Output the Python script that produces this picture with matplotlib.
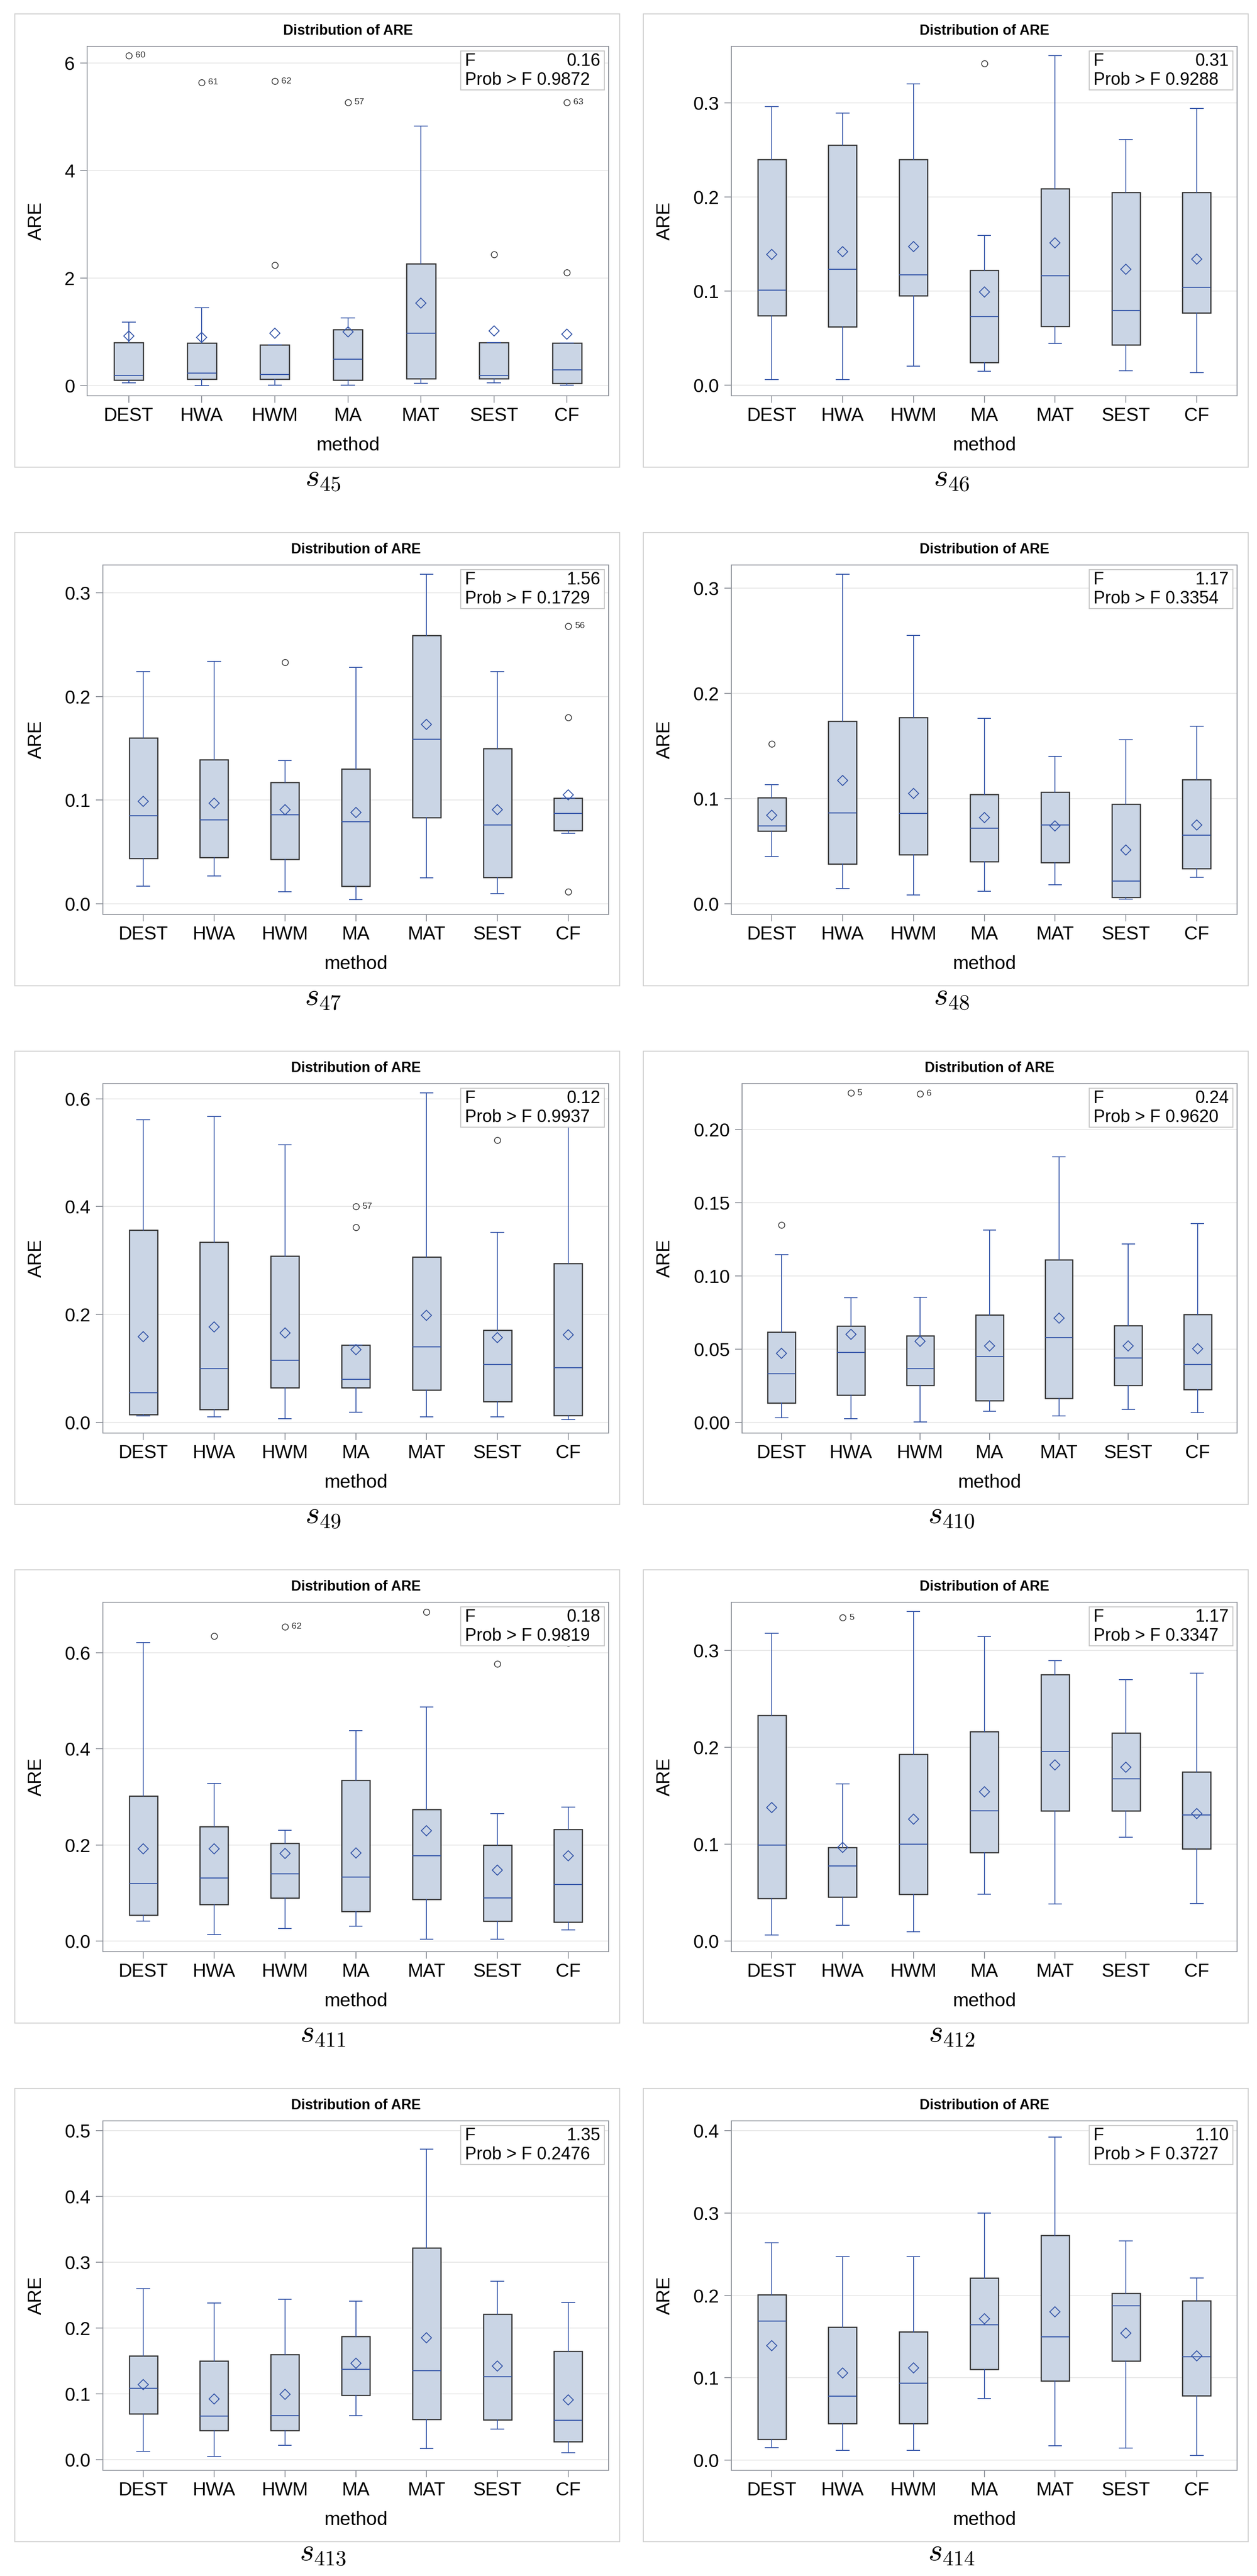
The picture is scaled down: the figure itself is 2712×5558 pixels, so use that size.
import matplotlib.pyplot as plt
from matplotlib.patches import Rectangle
from matplotlib.ticker import MultipleLocator, FormatStrFormatter

plt.rcParams['font.family'] = ['Liberation Sans', 'DejaVu Sans']
plt.rcParams['mathtext.fontset'] = 'cm'

methods = ['DEST', 'HWA', 'HWM', 'MA', 'MAT', 'SEST', 'CF']
series = ['45', '46', '47', '48', '49', '410', '411', '412', '413', '414']
f_values = ['0.16', '0.31', '1.56', '1.17', '0.12', '0.24', '0.18', '1.17', '1.35', '1.10']
p_values = ['0.9872', '0.9288', '0.1729', '0.3354', '0.9937', '0.9620', '0.9819', '0.3347', '0.2476', '0.3727']

# one row per method: Q1, median, Q3, lower whisker, upper whisker, mean
s45 = [(0.10, 0.19, 0.80, 0.055, 1.18, 0.92),
       (0.12, 0.23, 0.79, 0.0, 1.45, 0.90),
       (0.12, 0.21, 0.76, 0.01, 0.76, 0.97),
       (0.10, 0.49, 1.04, 0.01, 1.26, 1.00),
       (0.13, 0.97, 2.27, 0.045, 4.83, 1.53),
       (0.13, 0.19, 0.80, 0.055, 0.80, 1.02),
       (0.045, 0.29, 0.79, 0.01, 0.79, 0.96)]
s46 = [(0.074, 0.101, 0.240, 0.006, 0.296, 0.139),
       (0.062, 0.123, 0.255, 0.006, 0.289, 0.142),
       (0.095, 0.117, 0.240, 0.020, 0.320, 0.147),
       (0.024, 0.073, 0.122, 0.0145, 0.159, 0.099),
       (0.0625, 0.116, 0.209, 0.0445, 0.350, 0.151),
       (0.043, 0.079, 0.205, 0.015, 0.261, 0.123),
       (0.077, 0.104, 0.205, 0.013, 0.294, 0.134)]
s47 = [(0.044, 0.085, 0.160, 0.017, 0.224, 0.099),
       (0.0447, 0.081, 0.139, 0.027, 0.234, 0.097),
       (0.043, 0.086, 0.117, 0.0118, 0.138, 0.091),
       (0.017, 0.079, 0.130, 0.004, 0.228, 0.088),
       (0.083, 0.159, 0.259, 0.025, 0.318, 0.173),
       (0.0255, 0.076, 0.150, 0.0098, 0.224, 0.091),
       (0.0705, 0.087, 0.102, 0.068, 0.102, 0.105)]
s48 = [(0.069, 0.074, 0.101, 0.045, 0.113, 0.084),
       (0.0378, 0.0864, 0.1736, 0.0144, 0.313, 0.117),
       (0.0466, 0.0858, 0.177, 0.0085, 0.255, 0.105),
       (0.040, 0.0717, 0.104, 0.012, 0.176, 0.082),
       (0.039, 0.075, 0.106, 0.018, 0.140, 0.074),
       (0.006, 0.0215, 0.0946, 0.0042, 0.156, 0.051),
       (0.0336, 0.065, 0.118, 0.025, 0.1685, 0.075)]
s49 = [(0.0143, 0.055, 0.3566, 0.0116, 0.561, 0.159),
       (0.024, 0.100, 0.334, 0.0105, 0.567, 0.177),
       (0.064, 0.115, 0.308, 0.007, 0.515, 0.166),
       (0.064, 0.080, 0.1436, 0.019, 0.1436, 0.135),
       (0.060, 0.140, 0.307, 0.0099, 0.611, 0.198),
       (0.0385, 0.107, 0.1706, 0.0099, 0.352, 0.157),
       (0.0132, 0.101, 0.295, 0.0055, 0.600, 0.162)]
s410 = [(0.0132, 0.0333, 0.0617, 0.0032, 0.1146, 0.0473),
        (0.0187, 0.0477, 0.0659, 0.0024, 0.0852, 0.0602),
        (0.0252, 0.0367, 0.0592, 0.0002, 0.0854, 0.0554),
        (0.0148, 0.0448, 0.0734, 0.0075, 0.1314, 0.0521),
        (0.0166, 0.0578, 0.111, 0.0045, 0.1815, 0.0712),
        (0.0254, 0.044, 0.0663, 0.0089, 0.122, 0.0523),
        (0.0225, 0.0396, 0.0738, 0.0067, 0.1357, 0.0503)]
s411 = [(0.0544, 0.120, 0.3016, 0.042, 0.621, 0.192),
        (0.076, 0.1316, 0.2386, 0.0136, 0.328, 0.1916),
        (0.0896, 0.1397, 0.2033, 0.026, 0.2305, 0.1823),
        (0.0618, 0.1335, 0.3344, 0.031, 0.438, 0.183),
        (0.0871, 0.1774, 0.2744, 0.0037, 0.487, 0.230),
        (0.042, 0.0896, 0.1996, 0.0037, 0.2658, 0.148),
        (0.0396, 0.1174, 0.2324, 0.0229, 0.2787, 0.178)]
s412 = [(0.0438, 0.099, 0.2329, 0.0064, 0.3175, 0.1379),
        (0.0454, 0.0775, 0.0968, 0.0165, 0.1624, 0.0968),
        (0.0484, 0.1002, 0.1928, 0.0098, 0.3399, 0.126),
        (0.0916, 0.1345, 0.2161, 0.0484, 0.3144, 0.1541),
        (0.1342, 0.1958, 0.2752, 0.0383, 0.2896, 0.1817),
        (0.1342, 0.1673, 0.2148, 0.107, 0.2697, 0.1796),
        (0.0953, 0.130, 0.1747, 0.0389, 0.2764, 0.1315)]
s413 = [(0.0696, 0.109, 0.158, 0.0131, 0.2603, 0.114),
        (0.0449, 0.0661, 0.150, 0.005, 0.238, 0.0928),
        (0.0449, 0.0671, 0.160, 0.0217, 0.244, 0.0994),
        (0.0984, 0.1377, 0.1872, 0.0671, 0.241, 0.1468),
        (0.0616, 0.1357, 0.3219, 0.0172, 0.4723, 0.1857),
        (0.0605, 0.1261, 0.2215, 0.0469, 0.2714, 0.1428),
        (0.0277, 0.060, 0.165, 0.0111, 0.2392, 0.0913)]
s414 = [(0.025, 0.169, 0.2008, 0.0149, 0.2637, 0.139),
        (0.0444, 0.0774, 0.1617, 0.0117, 0.2468, 0.1056),
        (0.0444, 0.0935, 0.156, 0.0117, 0.2468, 0.112),
        (0.110, 0.1645, 0.2214, 0.0746, 0.300, 0.1718),
        (0.096, 0.1496, 0.273, 0.0173, 0.3923, 0.1798),
        (0.1206, 0.1871, 0.2024, 0.0145, 0.266, 0.1544),
        (0.0782, 0.1254, 0.1935, 0.0056, 0.2214, 0.1266)]

# outliers: (method index, value, observation label)
out45 = [(0, 6.14, '60'), (1, 5.64, '61'), (2, 5.66, '62'), (2, 2.24, ''),
         (3, 5.27, '57'), (5, 2.44, ''), (6, 5.27, '63'), (6, 2.10, '')]
out46 = [(3, 0.342, '')]
out47 = [(2, 0.233, ''), (6, 0.268, '56'), (6, 0.180, ''), (6, 0.0115, '')]
out48 = [(0, 0.152, '')]
out49 = [(3, 0.400, '57'), (3, 0.362, ''), (5, 0.523, '')]
out410 = [(0, 0.135, ''), (1, 0.225, '5'), (2, 0.2245, '6')]
out411 = [(1, 0.635, ''), (2, 0.654, '62'), (4, 0.685, ''), (5, 0.5766, ''), (6, 0.6205, '')]
out412 = [(1, 0.3337, '5')]
out413 = []
out414 = []

y_ranges = [(-0.19, 6.31), (-0.0114, 0.36), (-0.0103, 0.327), (-0.0102, 0.322),
            (-0.0198, 0.628), (-0.0073, 0.2314), (-0.022, 0.705), (-0.011, 0.3497),
            (-0.016, 0.515), (-0.0125, 0.412)]
y_steps = [2, 0.1, 0.1, 0.1, 0.2, 0.05, 0.2, 0.1, 0.1, 0.1]
y_formats = ['%d', '%.1f', '%.1f', '%.1f', '%.1f', '%.2f', '%.1f', '%.1f', '%.1f', '%.1f']

boxes = [s45, s46, s47, s48, s49, s410, s411, s412, s413, s414]
outliers = [out45, out46, out47, out48, out49, out410, out411, out412, out413, out414]

# layout in pixels
W, H = 2712, 5558
plot_left = [156, 190, 190, 190, 190, 213, 190, 190, 190, 190]

blue = '#3556a9'
fill = '#cad5e5'
edge = '#2e2e2e'
axis_grey = '#8e939b'

fig = plt.figure(figsize=(W / 100, H / 100), dpi=100)


def fx(px):
    return px / W


def fy(py):
    return 1 - py / H


for i, name in enumerate(series):
    r, c = divmod(i, 2)
    x0 = 32 + 1356 * c
    y0 = 30 + 1119 * r

    fig.add_artist(Rectangle((fx(x0), fy(y0 + 978)), 1305 / W, 978 / H,
                             transform=fig.transFigure, fill=False,
                             ec='#d0d0d0', lw=1.5))

    left, right = x0 + plot_left[i], x0 + 1281
    top, bottom = y0 + 70, y0 + 824
    ax = fig.add_axes([fx(left), fy(bottom), (right - left) / W, (bottom - top) / H])

    stats = []
    for j, (q1, med, q3, lo, hi, mean) in enumerate(boxes[i]):
        fl = [v for k, v, _ in outliers[i] if k == j]
        stats.append(dict(q1=q1, med=med, q3=q3, whislo=lo, whishi=hi,
                          mean=mean, fliers=fl))

    ax.bxp(stats, positions=range(len(methods)), widths=0.4, capwidths=0.18,
           showmeans=True, patch_artist=True,
           boxprops=dict(facecolor=fill, edgecolor=edge, linewidth=1.8),
           medianprops=dict(color=blue, linewidth=1.6),
           whiskerprops=dict(color=blue, linewidth=1.4),
           capprops=dict(color=blue, linewidth=1.4),
           meanprops=dict(marker='D', markerfacecolor='none',
                          markeredgecolor=blue, markersize=11.5, markeredgewidth=1.4),
           flierprops=dict(marker='o', markerfacecolor='none',
                           markeredgecolor='#333333', markersize=9.5,
                           markeredgewidth=1.2))

    for k, v, lab in outliers[i]:
        if lab:
            ax.annotate(lab, (k, v), xytext=(10, 0), textcoords='offset points',
                        va='center', ha='left', fontsize=14, color='#333333')

    ax.set_xlim(-0.57, len(methods) - 1 + 0.57)
    ax.set_ylim(*y_ranges[i])
    ax.yaxis.set_major_locator(MultipleLocator(y_steps[i]))
    ax.yaxis.set_major_formatter(FormatStrFormatter(y_formats[i]))
    ax.set_xticks(range(len(methods)))
    ax.set_xticklabels(methods)
    ax.yaxis.grid(True, color='#e8e8e8', linewidth=1.5)
    ax.set_axisbelow(True)
    for sp in ax.spines.values():
        sp.set_color(axis_grey)
        sp.set_linewidth(1.4)
    ax.tick_params(axis='both', direction='out', length=11, width=1.4,
                   color=axis_grey, labelsize=29)
    ax.tick_params(axis='x', pad=6)
    ax.tick_params(axis='y', pad=8)

    cx = (left + right) / 2
    fig.text(fx(cx), fy(y0 + 37), 'Distribution of ARE', ha='center', va='center',
             fontsize=22, fontweight='bold')
    fig.text(fx(cx), fy(y0 + 931), 'method', ha='center', va='center', fontsize=29.5)
    fig.text(fx(x0 + 46), fy((top + bottom) / 2), 'ARE', ha='center', va='center',
             rotation=90, fontsize=29)

    # F statistic inset
    br = right - 9
    bl = br - 310
    bt = top + 10
    fig.add_artist(Rectangle((fx(bl), fy(bt + 84)), 310 / W, 84 / H,
                             transform=fig.transFigure, facecolor='white',
                             ec='#c8c8c8', lw=1.5, zorder=5))
    fig.text(fx(bl + 9), fy(bt + 22), 'F', ha='left', va='center', fontsize=27, zorder=6)
    fig.text(fx(br - 9), fy(bt + 22), f_values[i], ha='right', va='center',
             fontsize=27, zorder=6)
    fig.text(fx(bl + 9), fy(bt + 63), 'Prob > F ' + p_values[i], ha='left',
             va='center', fontsize=27, zorder=6)

    fig.text(fx(x0 + 665), fy(y0 + 1019), r'$s_{%s}$' % name, ha='center',
             va='baseline', fontsize=48)

fig.savefig('out.png', dpi=100)
